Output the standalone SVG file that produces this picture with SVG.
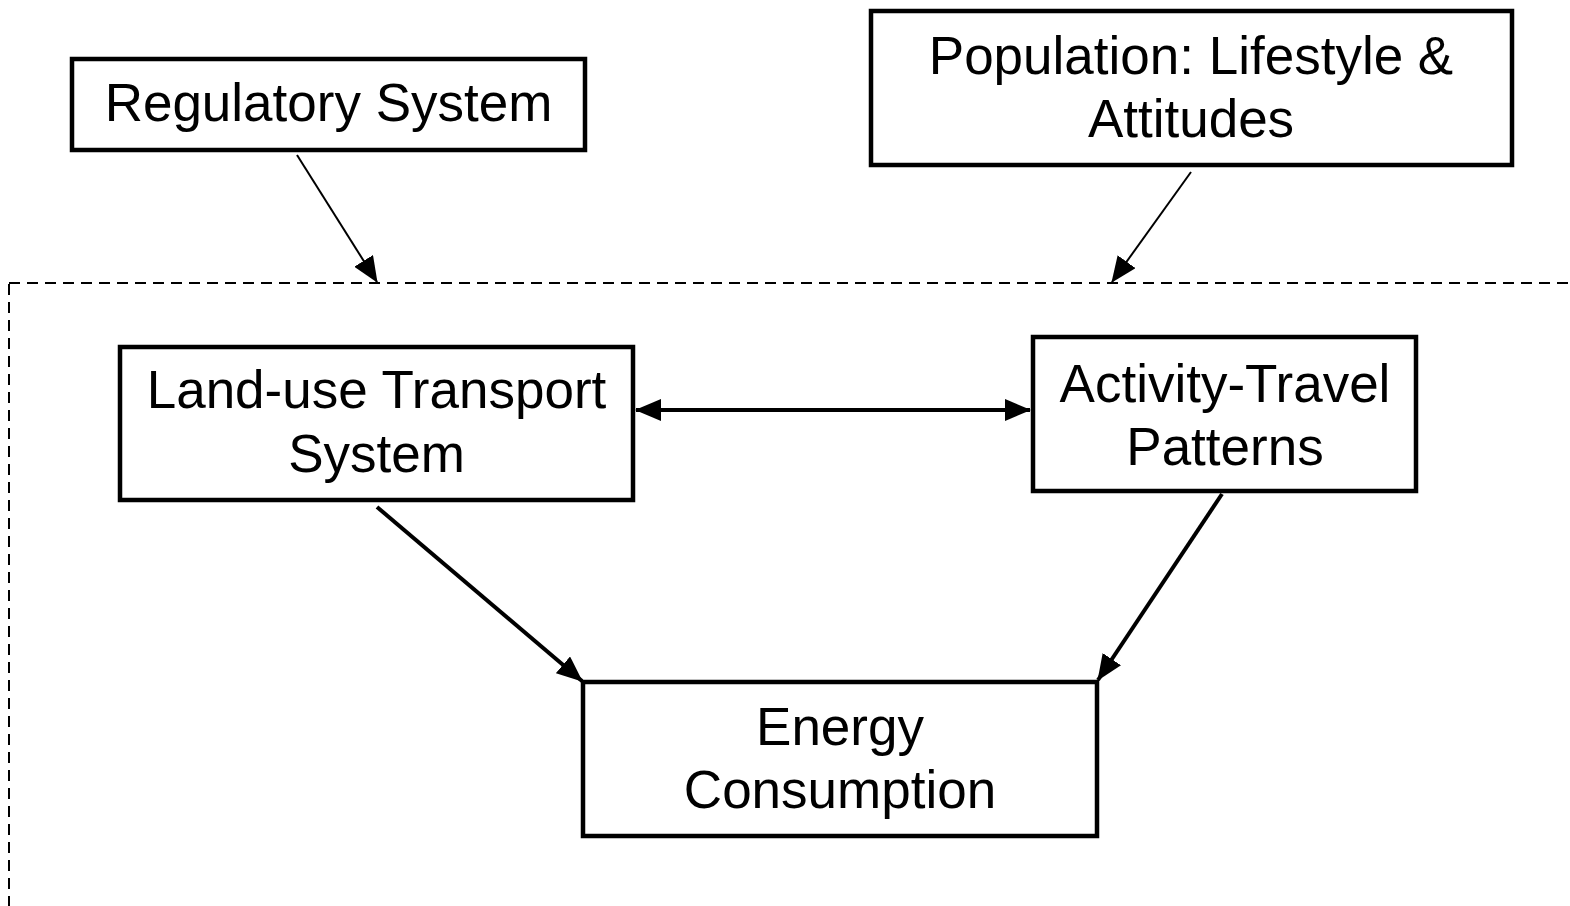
<svg xmlns="http://www.w3.org/2000/svg" width="1570" height="906" viewBox="0 0 1570 906">
  <style>
    .box { fill: #ffffff; stroke: #000000; stroke-width: 4.5; }
    .label { font-family: "Liberation Sans", Arial, Helvetica, sans-serif; font-size: 53px; fill: #000000; text-anchor: middle; }
    .thin { stroke: #000000; stroke-width: 2; fill: none; }
    .thick { stroke: #000000; stroke-width: 4; fill: none; }
    .frame { fill: none; stroke: #000000; stroke-width: 2; stroke-dasharray: 11 7; }
  </style>
  <defs>
    <marker id="head" viewBox="0 0 26 22" refX="25" refY="11" markerWidth="26" markerHeight="22" markerUnits="userSpaceOnUse" orient="auto-start-reverse">
      <path d="M0,0 L26,11 L0,22 z" fill="#000000"/>
    </marker>
  </defs>
  <rect width="1570" height="906" fill="#ffffff"/>

  <!-- dashed system boundary -->
  <rect class="frame" x="9" y="283" width="1580" height="640"/>

  <g id="regulatory-system">
    <rect class="box" x="72" y="59" width="513" height="91"/>
    <text class="label" x="328.5" y="121">Regulatory System</text>
  </g>

  <g id="population">
    <rect class="box" x="871" y="11" width="641" height="154"/>
    <text class="label" x="1191" y="74">Population: Lifestyle &amp;</text>
    <text class="label" x="1191" y="137">Attitudes</text>
  </g>

  <g id="land-use-transport">
    <rect class="box" x="120" y="347" width="513" height="153"/>
    <text class="label" x="376.5" y="408">Land-use Transport</text>
    <text class="label" x="376.5" y="472">System</text>
  </g>

  <g id="activity-travel">
    <rect class="box" x="1033" y="337" width="383" height="154"/>
    <text class="label" x="1225" y="402">Activity-Travel</text>
    <text class="label" x="1225" y="465">Patterns</text>
  </g>

  <g id="energy-consumption">
    <rect class="box" x="583" y="682" width="514" height="154"/>
    <text class="label" x="840" y="745">Energy</text>
    <text class="label" x="840" y="808">Consumption</text>
  </g>

  <g id="connectors">
    <line class="thin" x1="297" y1="155" x2="377" y2="282" marker-end="url(#head)"/>
    <line class="thin" x1="1191" y1="172" x2="1112" y2="282" marker-end="url(#head)"/>
    <line class="thick" x1="636" y1="410" x2="1030" y2="410" marker-start="url(#head)" marker-end="url(#head)"/>
    <line class="thick" x1="377" y1="507" x2="582" y2="681" marker-end="url(#head)"/>
    <line class="thick" x1="1222" y1="494" x2="1098" y2="680" marker-end="url(#head)"/>
  </g>
</svg>
